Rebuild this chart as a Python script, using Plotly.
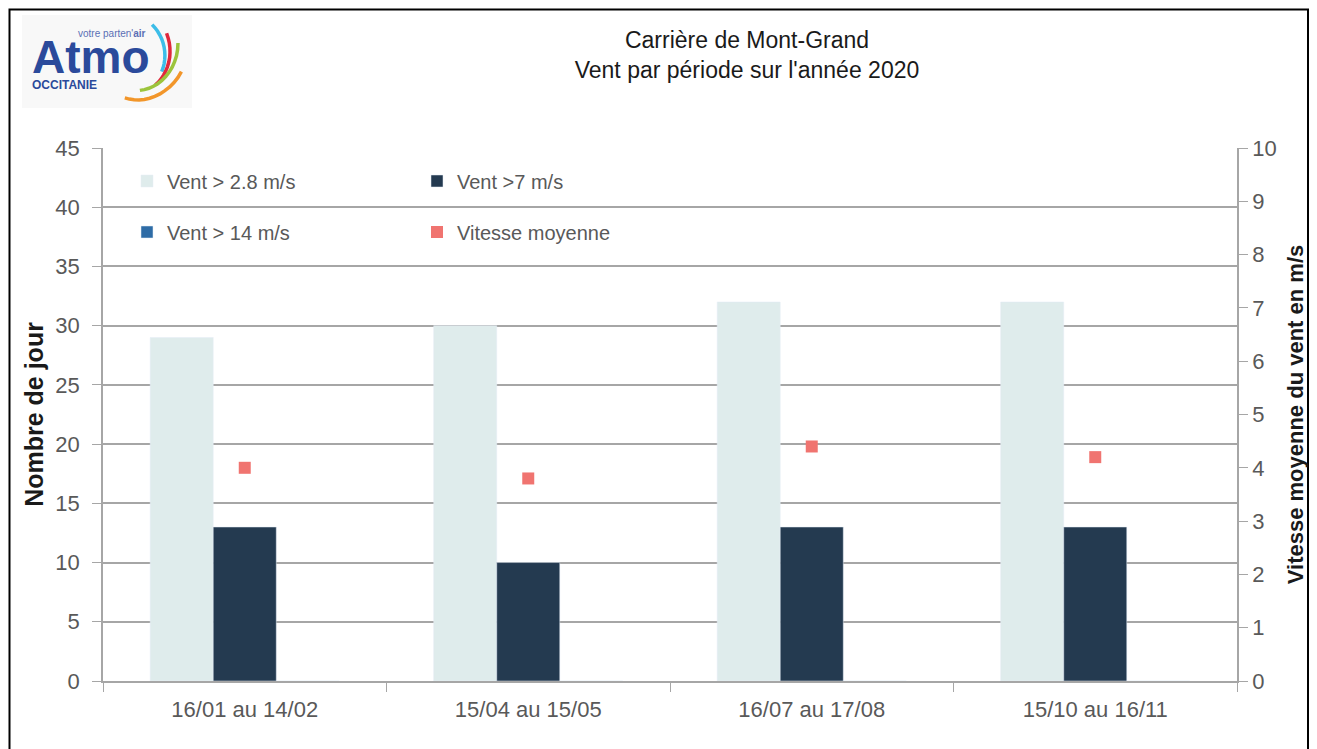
import math
import plotly.graph_objects as go

periodes = ['16/01 au 14/02', '15/04 au 15/05', '16/07 au 17/08', '15/10 au 16/11']
vent_28 = [29, 30, 32, 32]
vent_7 = [13, 10, 13, 13]
vent_14 = [0, 0, 0, 0]
vitesse_moy = [4.0, 3.8, 4.4, 4.2]

police = 'Liberation Sans, Arial'
gris = '#595959'
trait = '#a6a6a6'

# zone de tracé (pixels de la page) : x 103 -> 1237, y 148 -> 681
def px(x):
    return (x - 103) / 1134

def py(y):
    return (681 - y) / 533

fig = go.Figure()

fig.add_trace(go.Bar(x=periodes, y=vent_28, name='Vent > 2.8 m/s',
                     marker_color='#dfecec', legend='legend'))
fig.add_trace(go.Bar(x=periodes, y=vent_7, name='Vent >7 m/s',
                     marker_color='#243a50', legend='legend'))
fig.add_trace(go.Bar(x=periodes, y=vent_14, name='Vent > 14 m/s',
                     marker_color='#2e6ca6', legend='legend2'))
fig.add_trace(go.Scatter(x=periodes, y=vitesse_moy, name='Vitesse moyenne', yaxis='y2',
                         mode='markers', marker=dict(symbol='square', size=12, color='#f07470'),
                         legend='legend2'))

# cadre noir autour du graphique
fig.add_shape(type='rect', xref='paper', yref='paper', x0=px(9.5), x1=px(1308), y0=py(770), y1=py(9.5),
              line=dict(color='black', width=2), layer='below')

# logo Atmo Occitanie (approximation)
fig.add_shape(type='rect', xref='paper', yref='paper', x0=px(22), x1=px(192), y0=py(108), y1=py(15),
              fillcolor='#f8f8f8', line=dict(width=0), layer='below')
fig.add_annotation(xref='paper', yref='paper', x=px(30), y=py(62), xanchor='left', yanchor='middle',
                   text='<b><span style="font-size:46px">Atmo</span></b><br><b>OCCITANIE</b>',
                   showarrow=False, align='left',
                   font=dict(family='Liberation Sans, Arial', size=12, color='#2b4a9b'))
fig.add_annotation(xref='paper', yref='paper', x=px(148), y=py(34), xanchor='right', yanchor='middle',
                   text='votre parten\'<b>air</b>', showarrow=False,
                   font=dict(family='Liberation Sans, Arial', size=10, color='#5b6fb5'))
cx, cy = 122, 58
arcs = [('#3cbde8', 45, -48, 42, 19),
        ('#e0283c', 51, -29, 43, 39),
        ('#9cc43c', 58, -15, 37, 61),
        ('#f2962a', 61, 13, 40, 86)]
for couleur, r0, a0, r1, a1 in arcs:
    pts = []
    for k in range(13):
        t = k / 12
        r = r0 + (r1 - r0) * t
        a = math.radians(a0 + (a1 - a0) * t)
        pts.append('%.1f %.1f' % (r * math.cos(a), -r * math.sin(a)))
    chemin = 'M ' + ' L '.join(pts)
    fig.add_shape(type='path', xref='paper', yref='paper', xsizemode='pixel', ysizemode='pixel',
                  xanchor=px(cx), yanchor=py(cy), path=chemin, line=dict(color=couleur, width=3.5))

fig.update_layout(
    width=1317, height=749,
    margin=dict(l=95, r=88, t=140, b=76, autoexpand=False),
    paper_bgcolor='white', plot_bgcolor='white',
    font=dict(family=police, size=20, color=gris),
    title=dict(text='Carrière de Mont-Grand<br>Vent par période sur l\'année 2020',
               x=(747 - 8) / 1317, xanchor='center', y=1 - (48 - 8) / 749, yanchor='middle',
               font=dict(family=police, size=23, color='#1a1a1a')),
    barmode='group', bargap=0.333, bargroupgap=0,
    showlegend=True,
    legend=dict(orientation='h', x=px(127), y=py(181), xanchor='left', yanchor='middle',
                bgcolor='rgba(0,0,0,0)', entrywidth=245, entrywidthmode='pixels',
                font=dict(family=police, size=20, color=gris), itemclick=False),
    legend2=dict(orientation='h', x=px(127), y=py(232), xanchor='left', yanchor='middle',
                 bgcolor='rgba(0,0,0,0)', entrywidth=245, entrywidthmode='pixels',
                 font=dict(family=police, size=20, color=gris), itemclick=False),
    xaxis=dict(showline=True, linecolor=trait, linewidth=1.5, ticks='outside',
               tickson='boundaries', ticklen=9, tickcolor=trait, ticklabelstandoff=8,
               tickfont=dict(family=police, size=22, color=gris)),
    yaxis=dict(range=[0, 45], dtick=5, showline=True, linecolor=trait, linewidth=1.5,
               gridcolor=trait, gridwidth=1.5, ticks='outside', ticklen=9,
               tickcolor=trait, ticklabelstandoff=8,
               tickfont=dict(family=police, size=22, color=gris),
               title=dict(text='<b>Nombre de jour</b>', standoff=5,
                          font=dict(family=police, size=25, color='#1a1a1a'))),
    yaxis2=dict(range=[0, 10], dtick=1, overlaying='y', side='right', showgrid=False,
                showline=True, linecolor=trait, linewidth=1.5, ticks='outside',
                ticklen=9, tickcolor=trait, ticklabelstandoff=0,
                tickfont=dict(family=police, size=22, color=gris),
                title=dict(text='<b>Vitesse moyenne du vent en m/s</b>', standoff=12,
                           font=dict(family=police, size=22, color='#1a1a1a'))),
)

fig.write_html('out.html')
